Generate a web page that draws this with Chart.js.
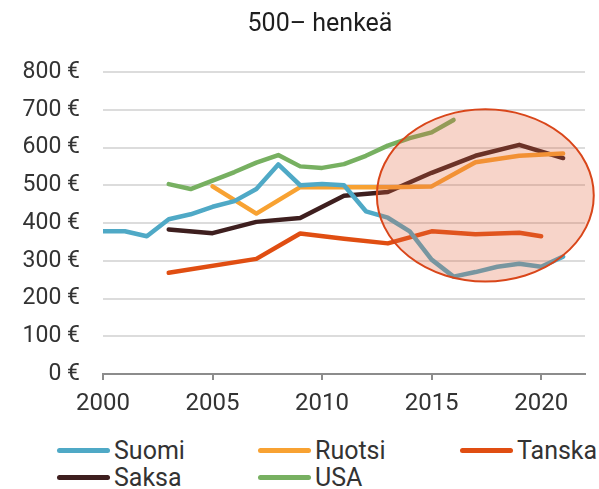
<!DOCTYPE html>
<html>
<head>
<meta charset="utf-8">
<script src="https://cdn.jsdelivr.net/npm/chart.js@4.4.1/dist/chart.umd.min.js"></script>
<style>
  body { margin: 0; background: #fff; font-family: Roboto, "Noto Sans", sans-serif; }
  #wrap { position: relative; width: 599px; height: 489px; }
  #title { position: absolute; top: 8px; left: 200px; width: 240px; text-align: center; font-size: 25px; line-height: 30px; color: #1e1e1e; }
  #chartBox { position: absolute; left: 0; top: 0; width: 599px; height: 420px; }
  .leg { position: absolute; display: flex; align-items: center; font-size: 25px; line-height: 29px; color: #333; }
  .leg span.ln { display: inline-block; width: 53px; height: 5px; border-radius: 3px; margin-right: 4px; }
</style>
</head>
<body>
<div id="wrap">
  <div id="chartBox"><canvas id="myChart" width="599" height="420"></canvas></div>
  <div id="title">500– henkeä</div>
  <div id="legend"></div>
</div>
<script>
// years on x axis
const years = [2000, 2001, 2002, 2003, 2004, 2005, 2006, 2007, 2008, 2009, 2010,
               2011, 2012, 2013, 2014, 2015, 2016, 2017, 2018, 2019, 2020, 2021];
const xTicks = [2000, 2005, 2010, 2015, 2020];
const yTicks = [0, 100, 200, 300, 400, 500, 600, 700, 800];

// values in euros, null = no value that year
const suomi  = [378, 378, 365, 410, 423, 443, 458, 490, 555, 500, 503,
                500, 431, 414, 378, 303, 258, 270, 284, 292, 284, 311];
const ruotsi = [null, null, null, null, null, 497, null, 425, null, 495, null,
                495, null, 495, null, 497, null, 561, null, 578, null, 584];
const tanska = [null, null, null, 268, null, null, null, 305, null, 372, null,
                358, null, 346, null, 378, null, 370, null, 374, 365, null];
const saksa  = [null, null, null, 383, null, 373, null, 403, null, 413, null,
                472, null, 482, null, 533, null, 578, null, 607, null, 572];
const usa    = [null, null, null, 503, 490, 512, 535, 560, 580, 550, 546,
                556, 578, 605, 625, 640, 673, null, null, null, null, null];

const seriesNames = ['Suomi', 'Ruotsi', 'Tanska', 'Saksa', 'USA'];
const seriesData = [suomi, ruotsi, tanska, saksa, usa];
const seriesColors = ['#4FA9C6', '#F8A232', '#E04E12', '#3E1F1F', '#77B061'];

const datasets = seriesNames.map((name, i) => ({
    label: name,
    data: years.map((yr, j) => ({ x: yr, y: seriesData[i][j] })).filter(p => p.y !== null),
    borderColor: seriesColors[i],
    backgroundColor: seriesColors[i],
    borderWidth: 4.5,
    pointRadius: 0,
    tension: 0,
    borderJoinStyle: 'round',
    borderCapStyle: 'round'
}));

// the highlight circle over the later years
const ellipsePlugin = {
    id: 'ellipse',
    afterDraw(chart) {
        const xs = chart.scales.x, ys = chart.scales.y, c = chart.ctx;
        const cx = xs.getPixelForValue(2017.45), cy = ys.getPixelForValue(473);
        const rx = xs.getPixelForValue(2017.45 + 4.95) - cx;
        const ry = ys.getPixelForValue(473) - ys.getPixelForValue(473 + 228);
        c.save();
        c.beginPath();
        c.ellipse(cx, cy, rx, ry, 0, 0, Math.PI * 2);
        c.fillStyle = 'rgba(228, 100, 62, 0.28)';
        c.fill();
        c.lineWidth = 2;
        c.strokeStyle = '#D9461A';
        c.stroke();
        c.restore();
    }
};

const ctx = document.getElementById('myChart').getContext('2d');
const myChart = new Chart(ctx, {
    type: 'line',
    data: { datasets: datasets },
    options: {
        responsive: false,
        animation: false,
        layout: { padding: { top: 72, right: 14, left: 0, bottom: 0 } },
        plugins: { legend: { display: false }, tooltip: { enabled: false } },
        scales: {
            x: {
                type: 'linear',
                min: 2000,
                max: 2022,
                afterBuildTicks: s => { s.ticks = xTicks.map(v => ({ value: v })); },
                afterFit: s => { s.height = 46; },
                grid: { drawOnChartArea: false, drawTicks: true, tickLength: 6, color: '#8c8c8c', lineWidth: 2 },
                border: { color: '#8c8c8c', width: 2 },
                ticks: {
                    color: '#333',
                    font: { family: 'Roboto', size: 24 },
                    padding: 10,
                    callback: v => String(v)
                }
            },
            y: {
                min: 0,
                max: 800,
                afterBuildTicks: s => { s.ticks = yTicks.map(v => ({ value: v })); },
                afterFit: s => { s.width = 103; },
                grid: { color: '#dcdcdc', lineWidth: 2, drawTicks: false },
                border: { display: false },
                ticks: {
                    color: '#333',
                    font: { family: 'Roboto', size: 23 },
                    padding: 23,
                    callback: v => v + ' €'
                }
            }
        }
    },
    plugins: [ellipsePlugin]
});

// legend as a 3-column grid below the chart
const legendPos = [[57, 436], [258, 436], [460, 436], [57, 463], [258, 463]];
const legendEl = document.getElementById('legend');
seriesNames.forEach((name, i) => {
    const d = document.createElement('div');
    d.className = 'leg';
    d.style.left = legendPos[i][0] + 'px';
    d.style.top = legendPos[i][1] + 'px';
    d.innerHTML = '<span class="ln" style="background:' + seriesColors[i] + '"></span>' + name;
    legendEl.appendChild(d);
});
</script>
</body>
</html>
